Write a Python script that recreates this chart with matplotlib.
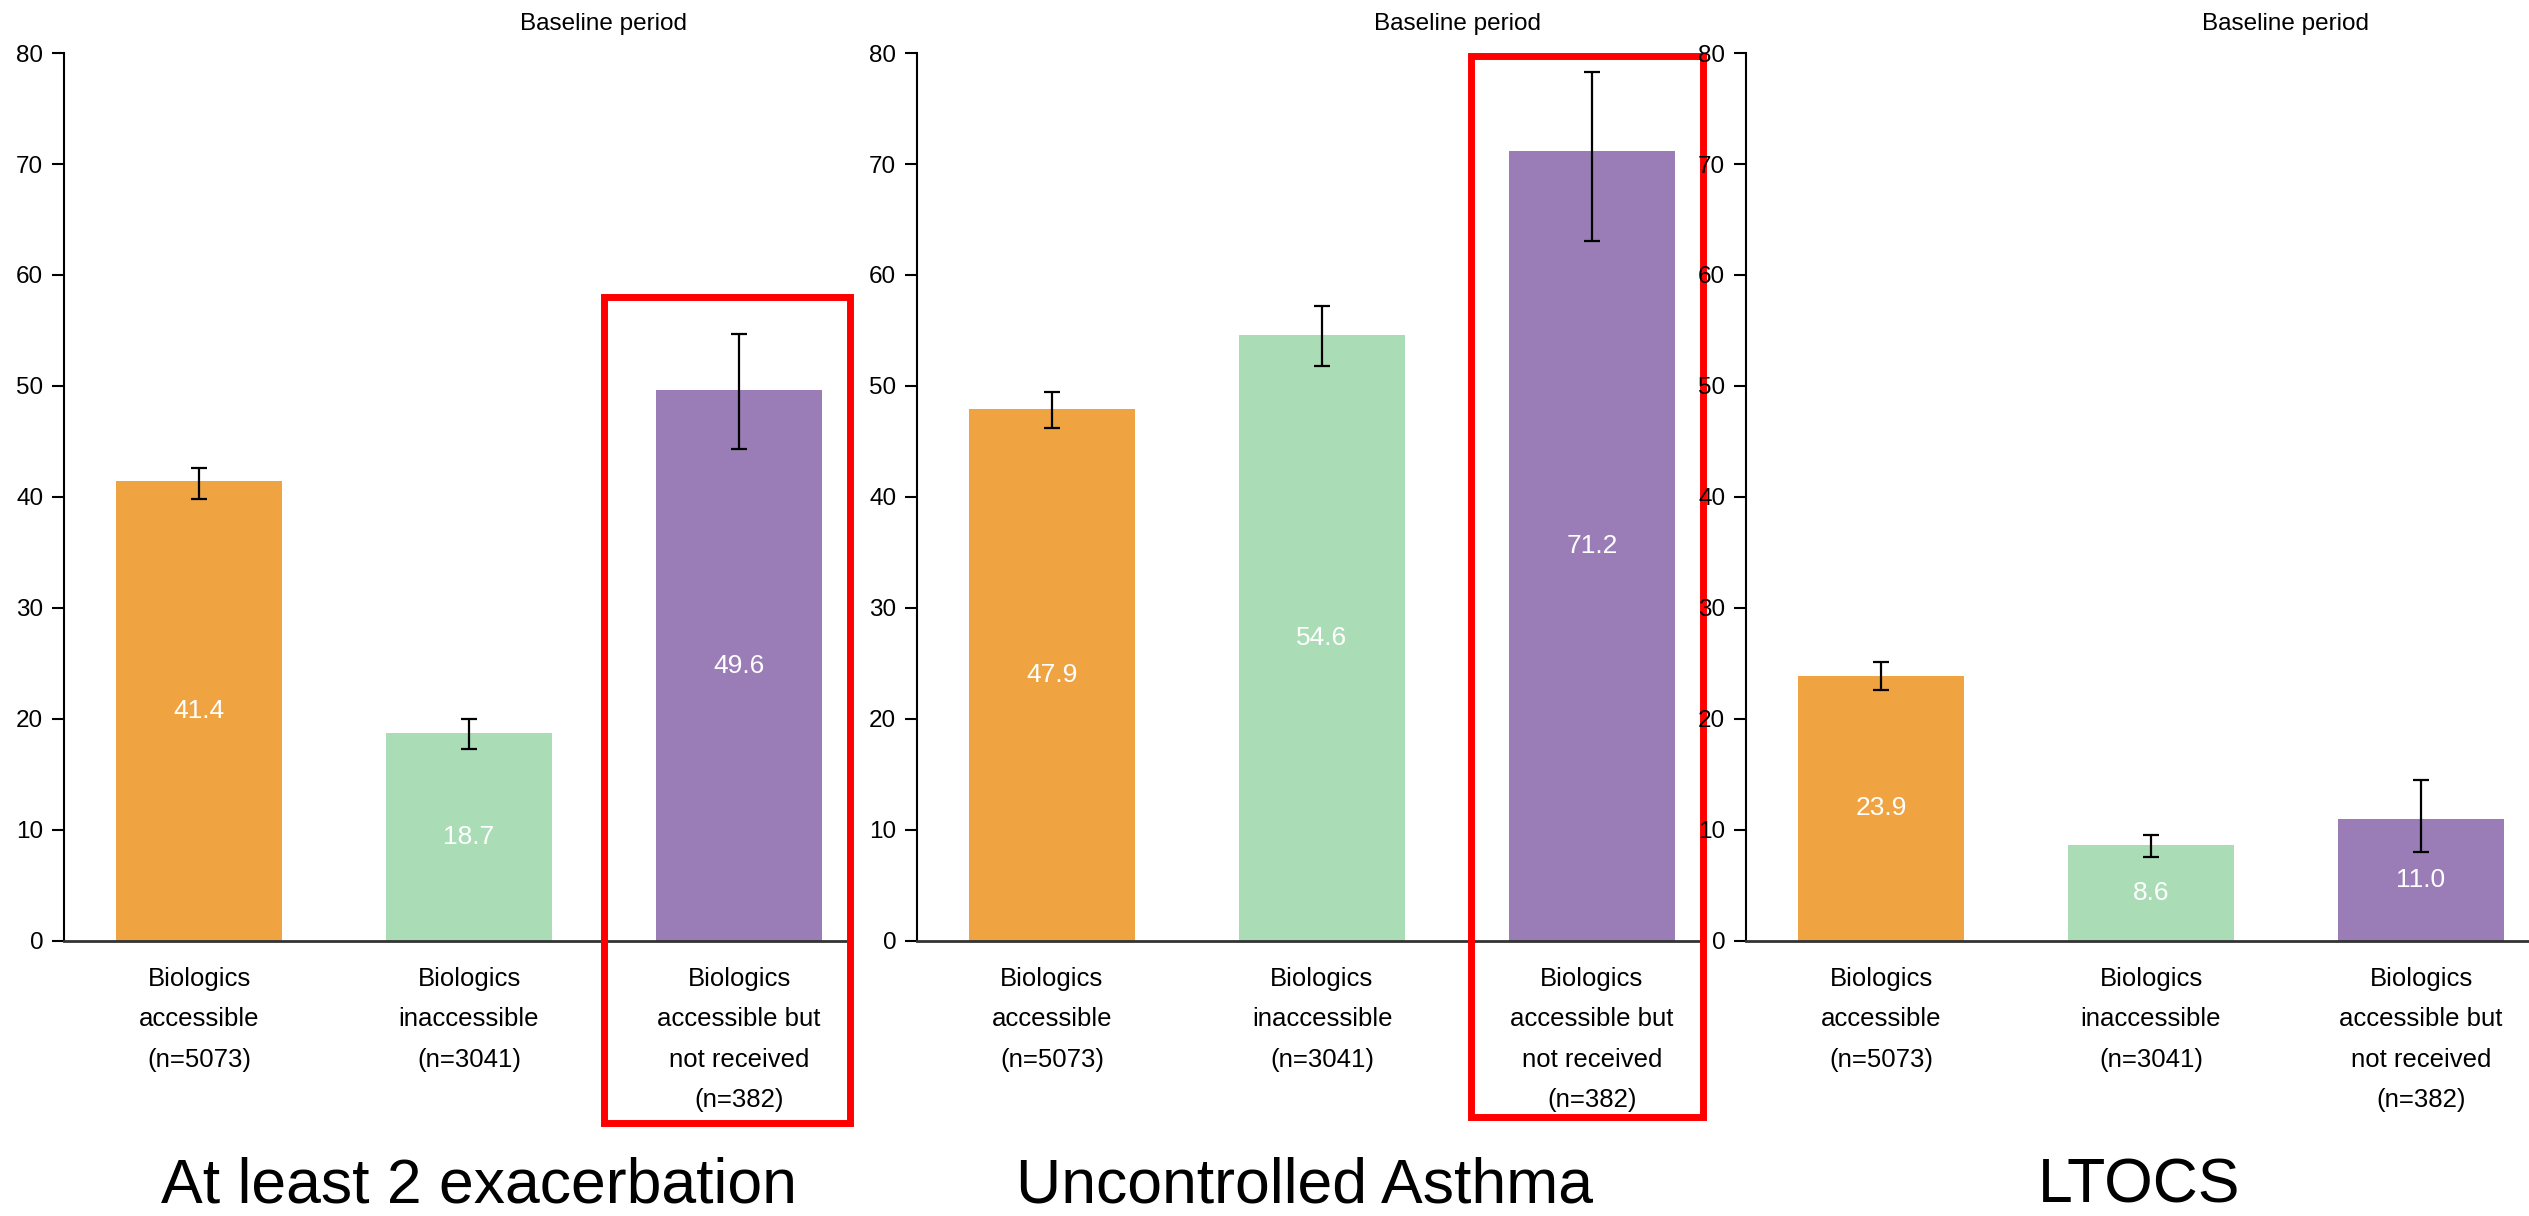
import matplotlib
matplotlib.use("Agg")
import matplotlib.pyplot as plt
from matplotlib.patches import Rectangle

plt.rcParams['font.family'] = ['Liberation Sans', 'DejaVu Sans']

categories = ["Biologics\naccessible\n(n=5073)",
              "Biologics\ninaccessible\n(n=3041)",
              "Biologics\naccessible but\nnot received\n(n=382)"]
panel_titles = ["At least 2 exacerbation", "Uncontrolled Asthma", "LTOCS"]

values = [[41.4, 18.7, 49.6],
          [47.9, 54.6, 71.2],
          [23.9, 8.6, 11.0]]
err_low = [[39.8, 17.3, 44.3],
           [46.2, 51.8, 63.1],
           [22.6, 7.6, 8.0]]
err_high = [[42.6, 20.0, 54.7],
            [49.5, 57.2, 78.3],
            [25.1, 9.5, 14.5]]

# red highlight boxes (x0, x1, y0, y1) in data units, None = no box
highlights = [(1.50, 2.41, -16.4, 58.0), (1.55, 2.41, -15.9, 79.7), None]

colors = ["#F0A341", "#AADCB6", "#9A7CB7"]

fig = plt.figure(figsize=(25.29, 12.16), dpi=100)
lefts = [64 / 2529, 917 / 2529, 1746 / 2529]
sub_x = [479 / 2529, 1304 / 2529, 2139 / 2529]

for i in range(3):
    ax = fig.add_axes([lefts[i], 0.2262, 783 / 2529, 0.7302])
    x = [0, 1, 2]
    yerr = [[values[i][k] - err_low[i][k] for k in x],
            [err_high[i][k] - values[i][k] for k in x]]
    ax.bar(x, values[i], width=0.615, color=colors, zorder=2)
    ax.errorbar(x, values[i], yerr=yerr, fmt='none', ecolor='black',
                elinewidth=1.6, capsize=5.5, capthick=1.6, zorder=3)
    for k in x:
        ax.text(k, values[i][k] / 2, f"{values[i][k]:.1f}", color='white',
                ha='center', va='center', fontsize=19, zorder=4)

    ax.set_xlim(-0.5, 2.4)
    ax.set_ylim(0, 80)
    ax.set_yticks(range(0, 81, 10))
    ax.set_xticks(x)
    ax.set_xticklabels(categories, fontsize=18.5, linespacing=1.85)
    ax.tick_params(axis='x', length=0, pad=19)
    ax.tick_params(axis='y', length=9, width=1.5, pad=6, labelsize=17.5)
    for s in ['top', 'right']:
        ax.spines[s].set_visible(False)
    ax.spines['left'].set_linewidth(1.5)
    ax.spines['bottom'].set_linewidth(2.0)
    ax.spines['bottom'].set_color('#333333')
    ax.patch.set_alpha(0)

    ax.annotate("Baseline period", xy=(1.5, 80), xytext=(0, 21),
                textcoords='offset points', ha='center', va='center',
                fontsize=17.5, annotation_clip=False)

    if highlights[i] is not None:
        x0, x1, y0, y1 = highlights[i]
        ax.add_patch(Rectangle((x0, y0), x1 - x0, y1 - y0, fill=False,
                               edgecolor='#FF0000', linewidth=5,
                               clip_on=False, zorder=5))

    fig.text(sub_x[i], 0.011, panel_titles[i], ha='center', va='baseline',
             fontsize=45)

fig.savefig("out.png", dpi=100)
